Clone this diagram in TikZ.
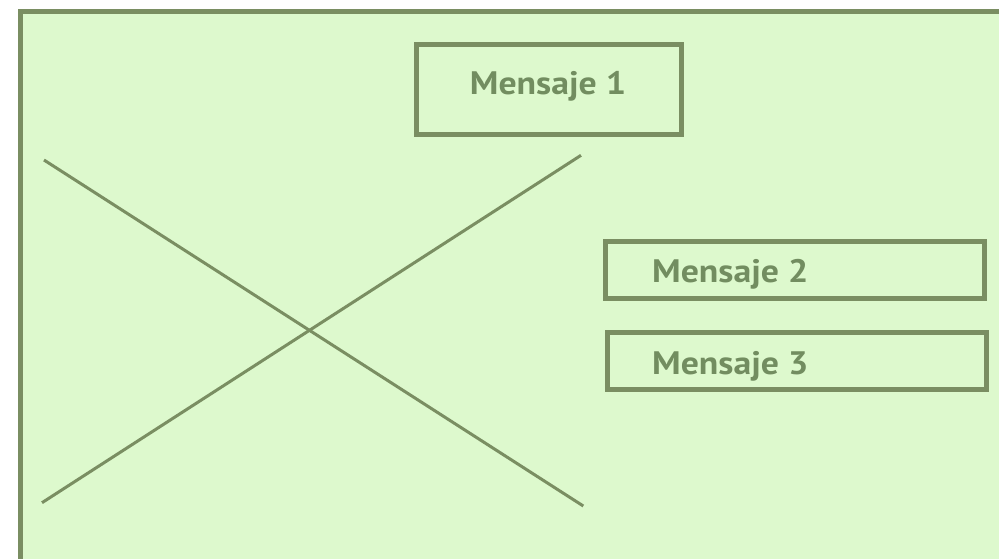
\documentclass[tikz,border=0pt]{standalone}
\usepackage{fontspec}
\setmainfont[FakeStretch=1.1]{PT Sans}
\definecolor{bgfill}{RGB}{221,249,205}
\definecolor{strk}{RGB}{122,142,98}
\definecolor{txt}{RGB}{114,141,96}
\begin{document}
\begin{tikzpicture}[x=1pt,y=-1pt,
  box/.style={draw=strk,line width=5pt,rectangle,inner sep=0pt},
  lbl/.style={text=txt,font=\bfseries\fontsize{32.5}{38}\selectfont,inner sep=0pt},
  xline/.style={draw=strk,line width=3pt}]
\useasboundingbox (0,0) rectangle (999,558);
\clip (0,0) rectangle (999,558);
\draw[draw=strk,fill=bgfill,line width=5pt] (20.5,11.5) rectangle (1030,600);
% message boxes
\node[box,minimum width=265pt,minimum height=90.5pt] (m1) at (549,89.25) {};
\node[lbl,anchor=base] (t1) at (548,94) {Mensaje 1};
\node[box,minimum width=379pt,minimum height=56.7pt] (m2) at (794.5,270.15) {};
\node[lbl,anchor=base west] (t2) at (652,282.7) {Mensaje 2};
\node[box,minimum width=379pt,minimum height=57pt] (m3) at (796.5,361) {};
\node[lbl,anchor=base west] (t3) at (652,374) {Mensaje 3};
% cross
\coordinate (a1) at (44,160);
\coordinate (a2) at (583.3,506);
\coordinate (b1) at (42,502.7);
\coordinate (b2) at (581,155.3);
\draw[xline] (a1) -- (a2);
\draw[xline] (b1) -- (b2);
\end{tikzpicture}
\end{document}
